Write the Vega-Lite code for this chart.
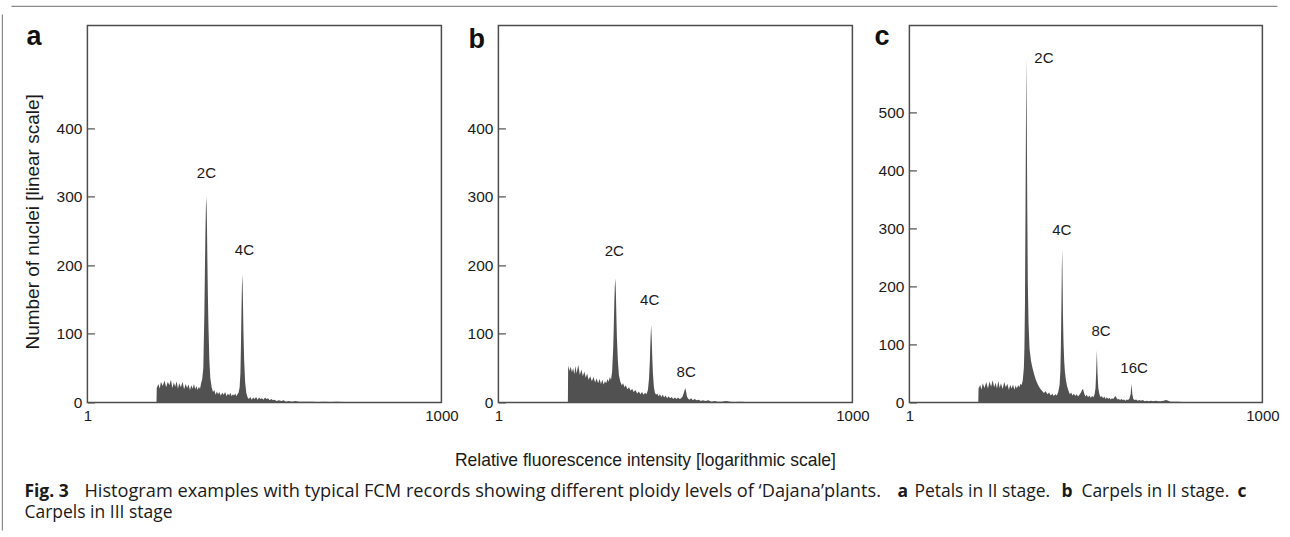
{
  "$schema": "https://vega.github.io/schema/vega-lite/v6.json",
  "padding": {"left": 0.4, "top": 4.4, "right": 0, "bottom": 0},
  "background": "white",
  "bounds": "flush",
  "spacing": 57,
  "config": {
    "font": "Liberation Sans",
    "view": {"stroke": "#4d4d4d", "strokeWidth": 1.5},
    "axis": {"labelFont": "Liberation Sans", "labelColor": "#1a1a1a", "titleFont": "Liberation Sans", "titleColor": "#1a1a1a", "titleFontWeight": "normal", "grid": false, "domain": false}
  },
  "datasets": {
    "a": [
      {"x":3.85,"n":0},{"x":3.87,"n":21},{"x":4.0,"n":27},{"x":4.1,"n":20},{"x":4.2,"n":30},{"x":4.35,"n":24},{"x":4.5,"n":32},{"x":4.65,"n":22},{"x":4.8,"n":30},{"x":4.95,"n":25},
      {"x":5.1,"n":33},{"x":5.25,"n":21},{"x":5.4,"n":29},{"x":5.55,"n":23},{"x":5.7,"n":31},{"x":5.85,"n":20},{"x":6.0,"n":28},{"x":6.2,"n":22},{"x":6.4,"n":30},{"x":6.6,"n":19},
      {"x":6.8,"n":27},{"x":7.0,"n":21},{"x":7.2,"n":26},{"x":7.4,"n":18},{"x":7.6,"n":25},{"x":7.8,"n":20},{"x":8.0,"n":27},{"x":8.2,"n":19},{"x":8.4,"n":24},{"x":8.6,"n":18},
      {"x":8.8,"n":23},{"x":9.0,"n":20},{"x":9.2,"n":28},{"x":9.4,"n":34},{"x":9.6,"n":50},{"x":9.8,"n":130},{"x":9.9,"n":190},{"x":10.0,"n":245},{"x":10.1,"n":285},{"x":10.2,"n":300},
      {"x":10.3,"n":265},{"x":10.4,"n":205},{"x":10.5,"n":155},{"x":10.6,"n":115},{"x":10.8,"n":62},{"x":11.0,"n":36},{"x":11.3,"n":22},{"x":11.6,"n":15},{"x":11.9,"n":18},{"x":12.2,"n":11},
      {"x":12.5,"n":16},{"x":12.8,"n":12},{"x":13.1,"n":15},{"x":13.5,"n":10},{"x":13.9,"n":14},{"x":14.3,"n":11},{"x":14.7,"n":15},{"x":15.1,"n":9},{"x":15.5,"n":13},{"x":15.9,"n":10},
      {"x":16.3,"n":14},{"x":16.7,"n":9},{"x":17.1,"n":12},{"x":17.5,"n":10},{"x":17.9,"n":13},{"x":18.3,"n":9},{"x":18.7,"n":12},{"x":19.1,"n":14},{"x":19.5,"n":22},{"x":19.8,"n":42},
      {"x":20.0,"n":80},{"x":20.2,"n":130},{"x":20.4,"n":170},{"x":20.6,"n":187},{"x":20.8,"n":150},{"x":21.0,"n":105},{"x":21.3,"n":62},{"x":21.7,"n":30},{"x":22.2,"n":14},{"x":22.8,"n":7},
      {"x":23.4,"n":5},{"x":24.0,"n":8},{"x":24.7,"n":4},{"x":25.4,"n":7},{"x":26.1,"n":5},{"x":26.9,"n":8},{"x":27.7,"n":4},{"x":28.5,"n":7},{"x":29.3,"n":5},{"x":30.2,"n":6},
      {"x":31.1,"n":4},{"x":32.0,"n":7},{"x":33.0,"n":5},{"x":34.0,"n":6},{"x":35.0,"n":3},{"x":36.2,"n":5},{"x":37.4,"n":3},{"x":38.6,"n":4},{"x":40,"n":2},{"x":42,"n":3},
      {"x":44,"n":2},{"x":46,"n":3},{"x":48,"n":1},{"x":51,"n":2},{"x":54,"n":1},{"x":58,"n":2},{"x":62,"n":1},{"x":67,"n":1},{"x":72,"n":1},{"x":80,"n":1},
      {"x":90,"n":0.5},{"x":100,"n":1},{"x":115,"n":0.5},{"x":130,"n":1},{"x":150,"n":0.5},{"x":180,"n":0.5},{"x":220,"n":0}
    ],
    "b": [
      {"x":3.88,"n":0},{"x":3.9,"n":54},{"x":4.0,"n":46},{"x":4.1,"n":52},{"x":4.2,"n":44},{"x":4.3,"n":50},{"x":4.4,"n":41},{"x":4.5,"n":53},{"x":4.6,"n":42},{"x":4.75,"n":55},
      {"x":4.9,"n":40},{"x":5.05,"n":48},{"x":5.2,"n":38},{"x":5.35,"n":45},{"x":5.5,"n":36},{"x":5.65,"n":42},{"x":5.8,"n":33},{"x":6.0,"n":38},{"x":6.2,"n":31},{"x":6.4,"n":37},
      {"x":6.6,"n":29},{"x":6.8,"n":35},{"x":7.0,"n":28},{"x":7.2,"n":34},{"x":7.4,"n":27},{"x":7.6,"n":33},{"x":7.8,"n":26},{"x":8.0,"n":31},{"x":8.2,"n":28},{"x":8.4,"n":34},
      {"x":8.6,"n":30},{"x":8.8,"n":37},{"x":9.0,"n":33},{"x":9.2,"n":45},{"x":9.4,"n":80},{"x":9.5,"n":110},{"x":9.6,"n":145},{"x":9.7,"n":170},{"x":9.8,"n":181},{"x":9.9,"n":160},
      {"x":10.0,"n":125},{"x":10.1,"n":95},{"x":10.3,"n":60},{"x":10.5,"n":40},{"x":10.8,"n":30},{"x":11.1,"n":25},{"x":11.4,"n":28},{"x":11.7,"n":22},{"x":12.0,"n":25},{"x":12.4,"n":19},
      {"x":12.8,"n":22},{"x":13.2,"n":17},{"x":13.6,"n":20},{"x":14.0,"n":15},{"x":14.5,"n":18},{"x":15.0,"n":13},{"x":15.5,"n":16},{"x":16.0,"n":12},{"x":16.5,"n":15},{"x":17.0,"n":11},
      {"x":17.5,"n":14},{"x":18.0,"n":12},{"x":18.5,"n":18},{"x":18.9,"n":35},{"x":19.2,"n":60},{"x":19.4,"n":85},{"x":19.6,"n":105},{"x":19.7,"n":113},{"x":19.9,"n":95},{"x":20.1,"n":70},
      {"x":20.4,"n":42},{"x":20.8,"n":22},{"x":21.2,"n":14},{"x":21.7,"n":11},{"x":22.2,"n":13},{"x":22.8,"n":9},{"x":23.4,"n":12},{"x":24.0,"n":8},{"x":24.7,"n":11},{"x":25.4,"n":7},
      {"x":26.1,"n":10},{"x":26.9,"n":6},{"x":27.7,"n":9},{"x":28.5,"n":6},{"x":29.4,"n":8},{"x":30.3,"n":5},{"x":31.3,"n":7},{"x":32.3,"n":5},{"x":33.3,"n":7},{"x":34.3,"n":5},
      {"x":35.4,"n":6},{"x":36.5,"n":9},{"x":37.3,"n":14},{"x":37.9,"n":18},{"x":38.4,"n":21},{"x":39.0,"n":15},{"x":39.6,"n":9},{"x":40.3,"n":6},{"x":41.5,"n":4},{"x":43,"n":6},
      {"x":44.5,"n":3},{"x":46,"n":5},{"x":48,"n":3},{"x":50,"n":4},{"x":52,"n":2},{"x":54,"n":3},{"x":57,"n":2},{"x":60,"n":3},{"x":64,"n":1},{"x":68,"n":2},
      {"x":72,"n":1},{"x":78,"n":1},{"x":85,"n":2},{"x":92,"n":1},{"x":100,"n":0.5},{"x":110,"n":1},{"x":125,"n":0.5},{"x":150,"n":0}
    ],
    "c": [
      {"x":3.85,"n":0},{"x":3.87,"n":24},{"x":4.0,"n":30},{"x":4.1,"n":22},{"x":4.2,"n":33},{"x":4.35,"n":25},{"x":4.5,"n":35},{"x":4.65,"n":24},{"x":4.8,"n":36},{"x":4.95,"n":27},
      {"x":5.1,"n":38},{"x":5.25,"n":26},{"x":5.4,"n":34},{"x":5.55,"n":24},{"x":5.7,"n":37},{"x":5.85,"n":25},{"x":6.0,"n":33},{"x":6.2,"n":23},{"x":6.4,"n":35},{"x":6.6,"n":26},
      {"x":6.8,"n":32},{"x":7.0,"n":22},{"x":7.2,"n":30},{"x":7.4,"n":24},{"x":7.6,"n":31},{"x":7.8,"n":22},{"x":8.0,"n":29},{"x":8.2,"n":24},{"x":8.4,"n":30},{"x":8.6,"n":26},
      {"x":8.8,"n":32},{"x":9.0,"n":30},{"x":9.2,"n":38},{"x":9.4,"n":60},{"x":9.5,"n":95},{"x":9.6,"n":170},{"x":9.7,"n":330},{"x":9.8,"n":500},{"x":9.87,"n":595},{"x":9.95,"n":480},
      {"x":10.05,"n":330},{"x":10.15,"n":205},{"x":10.3,"n":135},{"x":10.5,"n":92},{"x":10.8,"n":72},{"x":11.1,"n":60},{"x":11.5,"n":48},{"x":11.9,"n":38},{"x":12.4,"n":30},{"x":12.9,"n":24},
      {"x":13.4,"n":20},{"x":13.9,"n":16},{"x":14.4,"n":19},{"x":14.9,"n":14},{"x":15.4,"n":17},{"x":15.9,"n":12},{"x":16.4,"n":15},{"x":16.9,"n":11},{"x":17.4,"n":14},{"x":17.9,"n":12},
      {"x":18.4,"n":18},{"x":18.9,"n":30},{"x":19.2,"n":55},{"x":19.4,"n":100},{"x":19.6,"n":170},{"x":19.75,"n":230},{"x":19.9,"n":265},{"x":20.05,"n":210},{"x":20.2,"n":150},{"x":20.4,"n":105},
      {"x":20.7,"n":70},{"x":21.0,"n":52},{"x":21.4,"n":38},{"x":21.9,"n":28},{"x":22.5,"n":20},{"x":23.1,"n":14},{"x":23.7,"n":17},{"x":24.3,"n":12},{"x":25.0,"n":15},{"x":25.7,"n":11},
      {"x":26.4,"n":14},{"x":27.1,"n":10},{"x":27.9,"n":13},{"x":28.7,"n":17},{"x":29.4,"n":22},{"x":29.9,"n":23},{"x":30.5,"n":16},{"x":31.3,"n":10},{"x":32.1,"n":13},{"x":33.0,"n":9},
      {"x":33.9,"n":12},{"x":34.8,"n":8},{"x":35.7,"n":11},{"x":36.6,"n":9},{"x":37.5,"n":14},{"x":38.2,"n":25},{"x":38.7,"n":55},{"x":39.2,"n":90},{"x":39.7,"n":50},{"x":40.3,"n":25},
      {"x":41.2,"n":14},{"x":42.2,"n":9},{"x":43.2,"n":11},{"x":44.3,"n":7},{"x":45.4,"n":10},{"x":46.5,"n":6},{"x":47.7,"n":9},{"x":48.9,"n":6},{"x":50.1,"n":8},{"x":51.4,"n":5},
      {"x":52.7,"n":7},{"x":54.0,"n":6},{"x":55.3,"n":9},{"x":56.4,"n":11},{"x":57.5,"n":8},{"x":58.8,"n":5},{"x":60.3,"n":6},{"x":61.8,"n":4},{"x":63.4,"n":6},{"x":65.0,"n":4},
      {"x":66.7,"n":5},{"x":68.4,"n":3},{"x":70.2,"n":5},{"x":72.0,"n":4},{"x":74,"n":6},{"x":76,"n":15},{"x":77.2,"n":32},{"x":78.5,"n":14},{"x":80,"n":6},{"x":82,"n":4},
      {"x":84.5,"n":5},{"x":87,"n":3},{"x":90,"n":4},{"x":93,"n":3},{"x":96,"n":4},{"x":100,"n":2},{"x":104,"n":3},{"x":108,"n":2},{"x":113,"n":3},{"x":118,"n":2},
      {"x":124,"n":3},{"x":130,"n":2},{"x":137,"n":2},{"x":145,"n":3},{"x":152,"n":4},{"x":158,"n":3},{"x":165,"n":1},{"x":175,"n":1},{"x":190,"n":1},{"x":210,"n":0.5},
      {"x":236,"n":0.5},{"x":260,"n":0}
    ],
    "la": [{"label":"2C","x":10.2,"n":334},{"label":"4C","x":21.4,"n":223}],
    "lb": [{"label":"2C","x":9.61,"n":221},{"label":"4C","x":19.15,"n":149},{"label":"8C","x":39,"n":44}],
    "lc": [{"label":"2C","x":13.9,"n":594},{"label":"4C","x":19.7,"n":298},{"label":"8C","x":42.6,"n":123},{"label":"16C","x":81.2,"n":60}]
  },
  "hconcat": [
    {
      "width": 354, "height": 377,
      "layer": [
        {"data": {"name": "a"}, "mark": {"type": "area", "color": "#515151", "interpolate": "linear"},
         "encoding": {
           "x": {"field": "x", "type": "quantitative", "scale": {"type": "log", "domain": [1, 1000]}, "axis": {"values": [1, 1000], "format": "d", "ticks": false, "labelFlush": false, "labelPadding": 6, "labelFontSize": 15, "title": null}},
           "y": {"field": "n", "type": "quantitative", "scale": {"domain": [0, 520]}, "axis": {"values": [0, 100, 200, 300, 400], "tickSize": -7, "tickColor": "#4d4d4d", "tickWidth": 1.2, "labelPadding": 12.5, "labelFontSize": 15.5, "title": "Number of nuclei [linear scale]", "titleFontSize": 19, "titlePadding": 13.5, "titleY": 196}}
         }},
        {"data": {"name": "la"}, "mark": {"type": "text", "fontSize": 15, "color": "#1a1a1a", "baseline": "middle"},
         "encoding": {"x": {"field": "x", "type": "quantitative"}, "y": {"field": "n", "type": "quantitative"}, "text": {"field": "label"}}},
        {"data": {"values": [{"t": "a"}]}, "mark": {"type": "text", "x": -61, "y": 19.5, "align": "left", "baseline": "alphabetic", "fontSize": 27, "fontWeight": "bold", "color": "#111"}, "encoding": {"text": {"field": "t"}}},
        {"data": {"values": [{"t": "Relative fluorescence intensity [logarithmic scale]"}]}, "mark": {"type": "text", "x": 558, "y": 436, "align": "center", "baseline": "middle", "fontSize": 17.5, "color": "#1a1a1a"}, "encoding": {"text": {"field": "t"}}},
        {"data": {"values": [{"t": "Fig. 3"}]}, "mark": {"type": "text", "x": -63, "y": 471.5, "align": "left", "baseline": "alphabetic", "fontSize": 17.5, "font": "Open Sans", "fontWeight": "bold", "color": "#1a1a1a"}, "encoding": {"text": {"field": "t"}}},
        {"data": {"values": [{"t": "Histogram examples with typical FCM records showing different ploidy levels of ‘Dajana’plants."}]}, "mark": {"type": "text", "x": -3, "y": 471.5, "align": "left", "baseline": "alphabetic", "fontSize": 18.2, "font": "Open Sans", "color": "#1a1a1a"}, "encoding": {"text": {"field": "t"}}},
        {"data": {"values": [{"t": "a"}]}, "mark": {"type": "text", "x": 810, "y": 471.5, "align": "left", "baseline": "alphabetic", "fontSize": 17.5, "font": "Open Sans", "fontWeight": "bold", "color": "#1a1a1a"}, "encoding": {"text": {"field": "t"}}},
        {"data": {"values": [{"t": "Petals in II stage."}]}, "mark": {"type": "text", "x": 827, "y": 471.5, "align": "left", "baseline": "alphabetic", "fontSize": 17.5, "font": "Open Sans", "color": "#1a1a1a"}, "encoding": {"text": {"field": "t"}}},
        {"data": {"values": [{"t": "b"}]}, "mark": {"type": "text", "x": 974, "y": 471.5, "align": "left", "baseline": "alphabetic", "fontSize": 17.5, "font": "Open Sans", "fontWeight": "bold", "color": "#1a1a1a"}, "encoding": {"text": {"field": "t"}}},
        {"data": {"values": [{"t": "Carpels in II stage."}]}, "mark": {"type": "text", "x": 994, "y": 471.5, "align": "left", "baseline": "alphabetic", "fontSize": 17.5, "font": "Open Sans", "color": "#1a1a1a"}, "encoding": {"text": {"field": "t"}}},
        {"data": {"values": [{"t": "c"}]}, "mark": {"type": "text", "x": 1150, "y": 471.5, "align": "left", "baseline": "alphabetic", "fontSize": 17.5, "font": "Open Sans", "fontWeight": "bold", "color": "#1a1a1a"}, "encoding": {"text": {"field": "t"}}},
        {"data": {"values": [{"t": "Carpels in III stage"}]}, "mark": {"type": "text", "x": -63, "y": 493, "align": "left", "baseline": "alphabetic", "fontSize": 17.5, "font": "Open Sans", "color": "#1a1a1a"}, "encoding": {"text": {"field": "t"}}},
        {"data": {"values": [{"t": "frame"}]}, "mark": {"type": "rule", "color": "#8a8a8a", "strokeWidth": 1.2}, "encoding": {"x": {"value": -76}, "x2": {"value": 1190}, "y": {"value": -19}, "y2": {"value": -19}}},
        {"data": {"values": [{"t": "frame"}]}, "mark": {"type": "rule", "color": "#8a8a8a", "strokeWidth": 1.2}, "encoding": {"x": {"value": -85}, "x2": {"value": -85}, "y": {"value": -11}, "y2": {"value": 505}}}
      ]
    },
    {
      "width": 354, "height": 377,
      "layer": [
        {"data": {"name": "b"}, "mark": {"type": "area", "color": "#515151", "interpolate": "linear"},
         "encoding": {
           "x": {"field": "x", "type": "quantitative", "scale": {"type": "log", "domain": [1, 1000]}, "axis": {"values": [1, 1000], "format": "d", "ticks": false, "labelFlush": false, "labelPadding": 6, "labelFontSize": 15, "title": null}},
           "y": {"field": "n", "type": "quantitative", "scale": {"domain": [0, 520]}, "axis": {"values": [0, 100, 200, 300, 400], "tickSize": -7, "tickColor": "#4d4d4d", "tickWidth": 1.2, "labelPadding": 12.5, "labelFontSize": 15.5, "title": null}}
         }},
        {"data": {"name": "lb"}, "mark": {"type": "text", "fontSize": 15, "color": "#1a1a1a", "baseline": "middle"},
         "encoding": {"x": {"field": "x", "type": "quantitative"}, "y": {"field": "n", "type": "quantitative"}, "text": {"field": "label"}}},
        {"data": {"values": [{"t": "b"}]}, "mark": {"type": "text", "x": -30, "y": 22.5, "align": "left", "baseline": "alphabetic", "fontSize": 27, "fontWeight": "bold", "color": "#111"}, "encoding": {"text": {"field": "t"}}}
      ]
    },
    {
      "width": 353, "height": 377,
      "layer": [
        {"data": {"name": "c"}, "mark": {"type": "area", "color": "#515151", "interpolate": "linear"},
         "encoding": {
           "x": {"field": "x", "type": "quantitative", "scale": {"type": "log", "domain": [1, 1000]}, "axis": {"values": [1, 1000], "format": "d", "ticks": false, "labelFlush": false, "labelPadding": 6, "labelFontSize": 15, "title": null}},
           "y": {"field": "n", "type": "quantitative", "scale": {"domain": [0, 625]}, "axis": {"values": [0, 100, 200, 300, 400, 500], "tickSize": -7, "tickColor": "#4d4d4d", "tickWidth": 1.2, "labelPadding": 12.5, "labelFontSize": 15.5, "title": null}}
         }},
        {"data": {"name": "lc"}, "mark": {"type": "text", "fontSize": 15, "color": "#1a1a1a", "baseline": "middle"},
         "encoding": {"x": {"field": "x", "type": "quantitative"}, "y": {"field": "n", "type": "quantitative"}, "text": {"field": "label"}}},
        {"data": {"values": [{"t": "c"}]}, "mark": {"type": "text", "x": -35, "y": 19.5, "align": "left", "baseline": "alphabetic", "fontSize": 27, "fontWeight": "bold", "color": "#111"}, "encoding": {"text": {"field": "t"}}}
      ]
    }
  ]
}
